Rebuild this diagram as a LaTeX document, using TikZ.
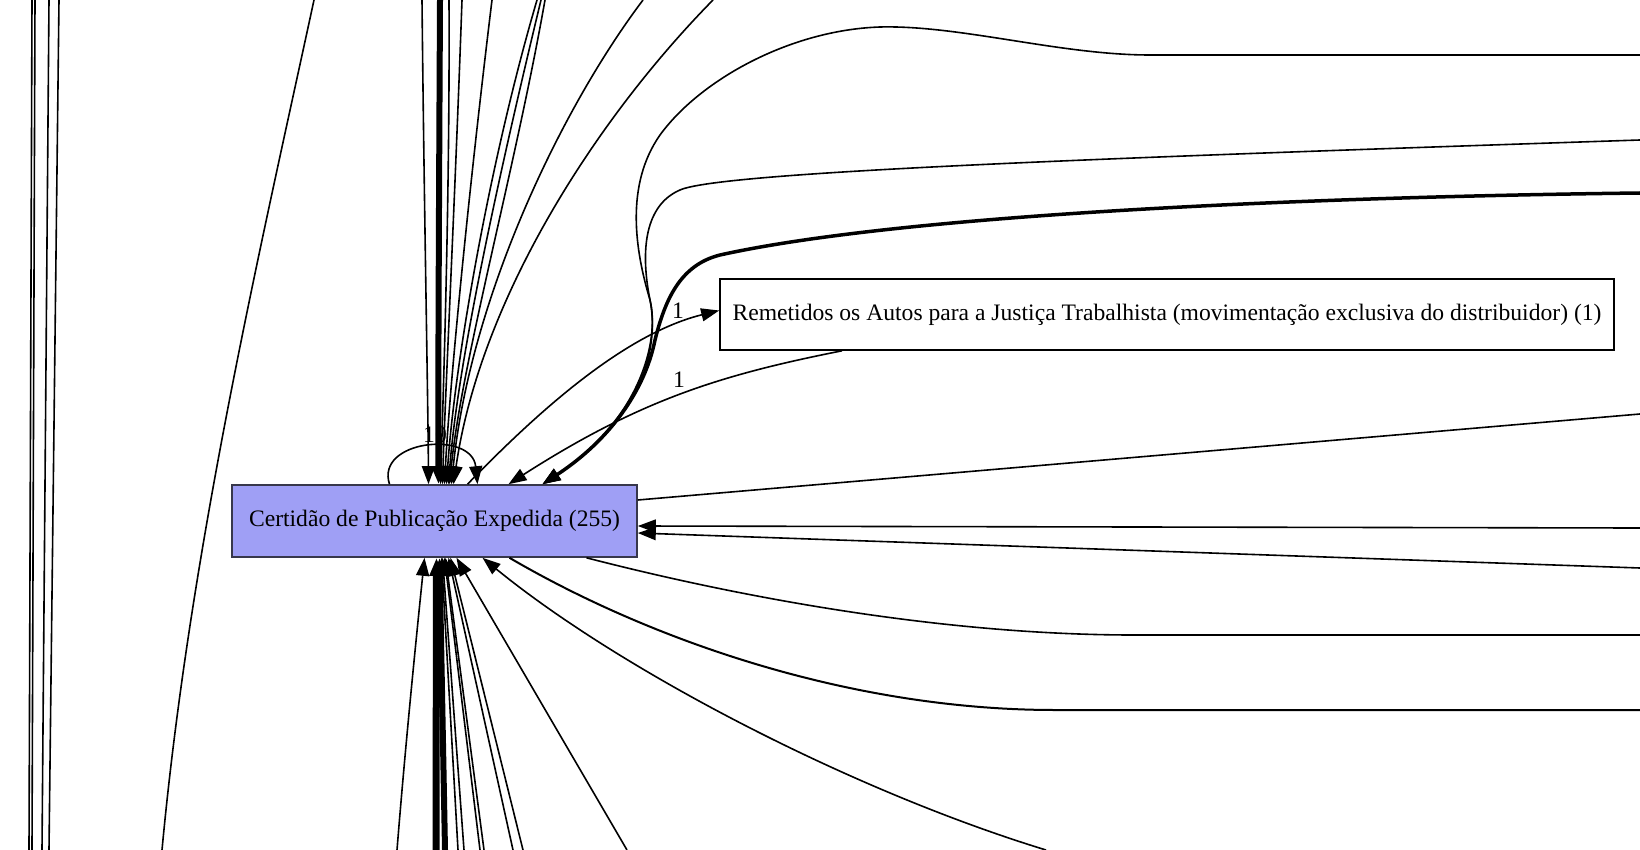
\documentclass[tikz,border=0pt]{standalone}
\usepackage{fontspec}
\setmainfont{Liberation Serif}
\usetikzlibrary{arrows.meta}
\definecolor{nodefill}{RGB}{159,159,245}
\definecolor{nodeline}{RGB}{55,55,75}
\tikzset{
  gv/.style={line width=1.6pt, -{Triangle[length=18pt,width=13pt]}},
  plain/.style={line width=1.6pt},
  box/.style={draw, line width=1.6pt, inner sep=0pt, font=\fontsize{23.6}{28}\selectfont},
  lbl/.style={font=\fontsize{23.6}{28}\selectfont, inner sep=0pt},
}
\begin{document}
\begin{tikzpicture}[x=1pt,y=-1pt]
\useasboundingbox (0,0) rectangle (1640,850);
% nodes
\node[box, fill=nodefill, draw=nodeline, minimum width=405pt, minimum height=72pt] (main) at (434.5,521) {Certidão de Publicação Expedida (255)};
\node[box, fill=white, minimum width=894pt, minimum height=71pt] (rem) at (1167,314.5) {Remetidos os Autos para a Justiça Trabalhista (movimentação exclusiva do distribuidor) (1)};
% free ends
\coordinate (l1a) at (32,0);  \coordinate (l1b) at (29,850);
\coordinate (l2a) at (35,0);  \coordinate (l2b) at (32,850);
\coordinate (l3a) at (49,0);  \coordinate (l3b) at (42,850);
\coordinate (l4a) at (59,0);  \coordinate (l4b) at (49,850);
\coordinate (l5a) at (314,0); \coordinate (l5b) at (162,850);
\coordinate (t1) at (422,0);
\coordinate (t2) at (440,0);
\coordinate (t3) at (449,0);
\coordinate (t4) at (462,0);
\coordinate (t5) at (492,0);
\coordinate (t6) at (537,0);
\coordinate (t7) at (541,0);
\coordinate (t8) at (545,0);
\coordinate (t9) at (643,0);
\coordinate (t10) at (713,0);
\coordinate (b1) at (397,850);
\coordinate (b2) at (436,850);
\coordinate (b2b) at (445,850);
\coordinate (b3) at (458,850);
\coordinate (b4) at (464,850);
\coordinate (b5) at (480,850);
\coordinate (b6) at (484,850);
\coordinate (b7) at (513,850);
\coordinate (b8) at (523,850);
\coordinate (b9) at (627,850);
\coordinate (ba) at (1046,850);
\coordinate (o1) at (1640,635);
\coordinate (o2) at (1640,710);
\coordinate (r1) at (1640,414);
\coordinate (r2) at (1640,528);
\coordinate (r3) at (1640,568);
\coordinate (e3) at (1640,193);
\coordinate (e4) at (1640,140);
\coordinate (e5) at (1640,55);
% left lines
\draw[plain] (l1a) -- (l1b);
\draw[plain] (l2a) -- (l2b);
\draw[plain] (l3a) -- (l3b);
\draw[plain] (l4a) -- (l4b);
\draw[plain] (l5a) .. controls (260,250) and (190,550) .. (l5b);
% top bundle
\draw[gv] (t1) .. controls (424,200) and (428,400) .. ([xshift=-6pt]main.north);
\draw[gv, line width=6pt] (t2) .. controls (439,200) and (438,400) .. ([xshift=4pt]main.north);
\draw[gv] (t3) .. controls (450,200) and (443,400) .. ([xshift=6pt]main.north);
\draw[gv] (t4) .. controls (455,200) and (445,400) .. ([xshift=8pt]main.north);
\draw[gv] (t5) .. controls (470,180) and (450,380) .. ([xshift=10pt]main.north);
\draw[gv] (t6) .. controls (490,160) and (455,360) .. ([xshift=12pt]main.north);
\draw[gv] (t7) .. controls (500,170) and (458,360) .. ([xshift=14pt]main.north);
\draw[gv] (t8) .. controls (515,170) and (462,360) .. ([xshift=15pt]main.north);
\draw[gv] (t9) .. controls (560,110) and (470,300) .. ([xshift=17pt]main.north);
\draw[gv] (t10) .. controls (595,120) and (480,300) .. ([xshift=19pt]main.north);
% bottom bundle
\draw[gv] (b1) .. controls (405,750) and (415,650) .. ([xshift=-10pt]main.south);
\draw[gv, line width=7pt] (b2) -- ([xshift=2pt]main.south);
\draw[gv, line width=6pt] (b2b) -- ([xshift=5pt]main.south);
\draw[gv] (b3) -- ([xshift=7pt]main.south);
\draw[gv] (b4) -- ([xshift=8pt]main.south);
\draw[gv] (b5) -- ([xshift=10pt]main.south);
\draw[gv] (b6) -- ([xshift=11pt]main.south);
\draw[gv] (b7) -- ([xshift=14pt]main.south);
\draw[gv] (b8) -- ([xshift=16pt]main.south);
\draw[gv] (b9) -- ([xshift=22pt]main.south);
\draw[gv] (ba) .. controls (850,790) and (620,670) .. ([xshift=48pt]main.south);
% outgoing bottom-right
\draw[plain] ([xshift=152pt]main.south) .. controls (750,600) and (950,635) .. (1134,635) -- (o1);
\draw[plain, line width=2pt] ([xshift=75pt]main.south) .. controls (650,640) and (850,710) .. (1055,710) -- (o2);
% right side
\draw[plain] ([yshift=21pt]main.east) -- (r1);
\draw[gv] (r2) -- ([yshift=-5pt]main.east);
\draw[gv] (r3) -- ([yshift=-12pt]main.east);
% big curves from upper right
\draw[gv, line width=3.5pt] (e3) .. controls (1300,197) and (900,215) .. (720,255) .. controls (680,265) and (665,300) .. (655,340) .. controls (645,390) and (610,440) .. ([xshift=108pt]main.north);
\draw[gv] (e4) .. controls (1100,158) and (720,172) .. (680,190) .. controls (645,205) and (640,250) .. (650,300) .. controls (660,350) and (640,420) .. ([xshift=108pt]main.north);
\draw[gv] (e5) -- (1150,55) .. controls (1060,55) and (960,25) .. (880,27) .. controls (790,30) and (700,80) .. (660,135) .. controls (625,185) and (635,250) .. (650,300) .. controls (660,340) and (640,420) .. ([xshift=108pt]main.north);
% edges with Remetidos
\draw[gv] ([xshift=33pt]main.north) .. controls (530,420) and (620,335) .. ([yshift=4pt]rem.west);
\node[lbl] (lab1) at (678,311) {1};
\draw[gv] ([xshift=-325pt]rem.south) .. controls (720,375) and (640,400) .. ([xshift=74pt]main.north);
\node[lbl] (lab2) at (679,380) {1};
% self loop
\draw[gv] ([xshift=-45pt]main.north) .. controls (375,440) and (472,430) .. ([xshift=43pt]main.north);
\node[lbl] (lab10) at (435,435) {10};
\end{tikzpicture}
\end{document}
